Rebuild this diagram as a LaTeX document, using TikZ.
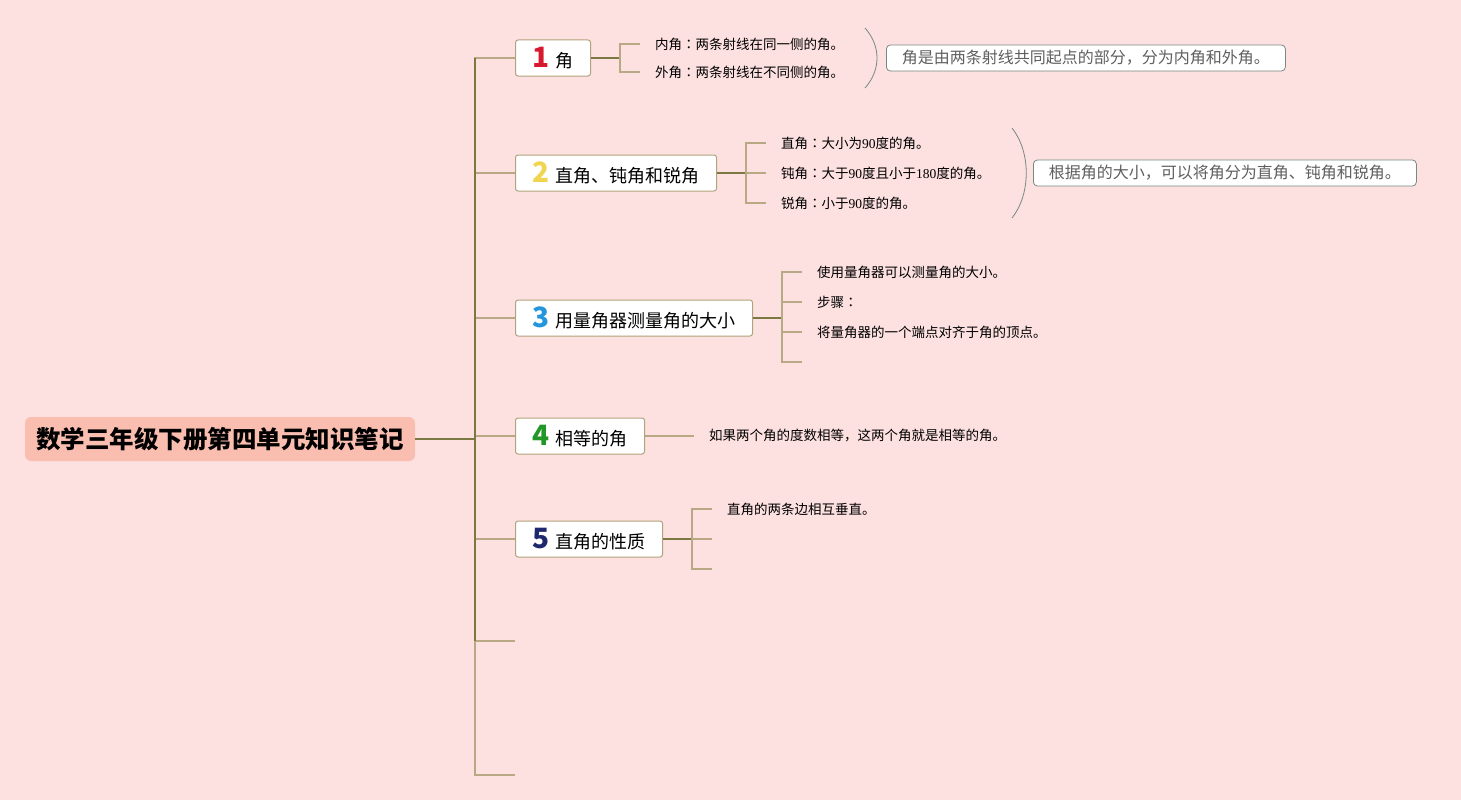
\documentclass[tikz,border=0pt]{standalone}
\usepackage{fontspec}
\setmainfont{Noto Sans CJK SC}
\newfontfamily\numfont{Liberation Serif}
\newfontfamily\colonfont{Noto Sans CJK JP}
\usetikzlibrary{
	positioning,
	calc
}
\definecolor{PageRose}{RGB}{253,224,224}
\definecolor{RootSalmon}{RGB}{250,190,176}
\definecolor{StemOlive}{RGB}{124,120,66}
\definecolor{TwigKhaki}{RGB}{184,168,132}
\definecolor{BoxKhaki}{RGB}{176,164,124}
\definecolor{NoteGrey}{RGB}{118,138,130}
\definecolor{NoteText}{RGB}{95,95,95}
\definecolor{NumRed}{RGB}{215,25,45}
\definecolor{NumYellow}{RGB}{240,214,80}
\definecolor{NumBlue}{RGB}{35,150,220}
\definecolor{NumGreen}{RGB}{35,150,40}
\definecolor{NumNavy}{RGB}{30,40,110}

\tikzset{
	rootbox/.style={fill=RootSalmon, rounded corners=6pt, minimum width=390pt,
		minimum height=44pt, font=\fontsize{24.5}{24.5}\selectfont\bfseries},
	topic/.style={draw=BoxKhaki, line width=1pt, fill=white, rounded corners=2.5pt,
		minimum height=36pt, anchor=west, inner xsep=0pt,
		font=\fontsize{18}{18}\selectfont},
	leaf/.style={anchor=west, inner xsep=15pt, inner ysep=0pt,
		font=\fontsize{13.5}{14}\selectfont},
	note/.style={draw=NoteGrey, line width=0.8pt, fill=white, rounded corners=4pt,
		minimum height=26pt, anchor=west, text=NoteText,
		font=\fontsize{16}{16}\selectfont},
	stem/.style={StemOlive, line width=1.6pt},
	twig/.style={TwigKhaki, line width=1.4pt},
	brace/.style={NoteGrey, line width=0.8pt}
}
\newcommand{\topicnum}[2]{{\color{#1}\fontsize{28}{28}\selectfont\bfseries #2}\hspace{5pt}}
\newcommand{\cc}{{\colonfont ：}}

\begin{document}
\begin{tikzpicture}[x=1pt,y=-1pt]
	
	\fill[PageRose] (0,0) rectangle (1461,800);
	\useasboundingbox (0,0) rectangle (1461,800);
	
	% root and main topics
	\node[rootbox] (root) at (220,439) {数学三年级下册第四单元知识笔记};
	
	\node[topic, minimum width=75pt] (angle) at (515,58) {\topicnum{NumRed}{1}角};
	\node[topic, minimum width=201pt] (kinds) at (515,173) {\topicnum{NumYellow}{2}直角、钝角和锐角};
	\node[topic, minimum width=237pt] (measure) at (515,318) {\topicnum{NumBlue}{3}用量角器测量角的大小};
	\node[topic, minimum width=129pt] (equal) at (515,436) {\topicnum{NumGreen}{4}相等的角};
	\node[topic, minimum width=147pt] (right) at (515,539) {\topicnum{NumNavy}{5}直角的性质};
	
	\coordinate (hub) at (475,439);
	\coordinate (stemtop) at (475,58);
	\coordinate (stembot) at (475,641);
	\coordinate (slotA) at (515,641);
	\coordinate (slotB) at (515,775);
	
	\draw[twig] (hub) |- (angle.west);
	\draw[twig] (hub) |- (kinds.west);
	\draw[twig] (hub) |- (measure.west);
	\draw[twig] (hub) |- (equal.west);
	\draw[twig] (hub) |- (right.west);
	\draw[twig] (hub) |- (slotA);
	\draw[twig] (hub) |- (slotB);
	\draw[stem] (stemtop) -- (stembot);
	\draw[stem] (root.east) -- (hub);
	
	% 1
	\coordinate (forkA) at (620,58);
	\node[leaf] (inner) at (640,44) {内角\cc 两条射线在同一侧的角。};
	\node[leaf] (outer) at (640,72) {外角\cc 两条射线在不同侧的角。};
	\draw[stem] (angle.east) -- (forkA);
	\draw[twig] (forkA) |- (inner.west);
	\draw[twig] (forkA) |- (outer.west);
	\draw[brace] (865,28) .. controls (881,46) and (881,70) .. (865,88);
	\node[note, minimum width=399pt] (noteA) at (886,58) {角是由两条射线共同起点的部分，分为内角和外角。};
	
	% 2
	\coordinate (forkB) at (746,173);
	\node[leaf] (rightdef) at (766,143) {直角\cc 大小为{\numfont 90}度的角。};
	\node[leaf] (obtuse) at (766,173) {钝角\cc 大于{\numfont 90}度且小于{\numfont 180}度的角。};
	\node[leaf] (acute) at (766,203) {锐角\cc 小于{\numfont 90}度的角。};
	\draw[stem] (kinds.east) -- (forkB);
	\draw[twig] (forkB) |- (rightdef.west);
	\draw[twig] (forkB) |- (obtuse.west);
	\draw[twig] (forkB) |- (acute.west);
	\draw[brace] (1012,128) .. controls (1031,152) and (1031,194) .. (1012,218);
	\node[note, minimum width=383pt] (noteB) at (1033,173) {根据角的大小，可以将角分为直角、钝角和锐角。};
	
	% 3
	\coordinate (forkC) at (782,318);
	\node[leaf] (tool) at (802,272) {使用量角器可以测量角的大小。};
	\node[leaf] (steps) at (802,302) {步骤\cc};
	\node[leaf] (align) at (802,332) {将量角器的一个端点对齐于角的顶点。};
	\coordinate (blankC) at (802,362);
	\draw[stem] (measure.east) -- (forkC);
	\draw[twig] (forkC) |- (tool.west);
	\draw[twig] (forkC) |- (steps.west);
	\draw[twig] (forkC) |- (align.west);
	\draw[twig] (forkC) |- (blankC);
	
	% 4
	\node[leaf] (same) at (694,436) {如果两个角的度数相等，这两个角就是相等的角。};
	\draw[twig] (equal.east) -- (same.west);
	
	% 5
	\coordinate (forkE) at (692,539);
	\node[leaf] (perp) at (712,509) {直角的两条边相互垂直。};
	\coordinate (blankE) at (712,539);
	\coordinate (blankF) at (712,569);
	\draw[stem] (right.east) -- (forkE);
	\draw[twig] (forkE) |- (perp.west);
	\draw[twig] (forkE) |- (blankE);
	\draw[twig] (forkE) |- (blankF);
	
\end{tikzpicture}
\end{document}
